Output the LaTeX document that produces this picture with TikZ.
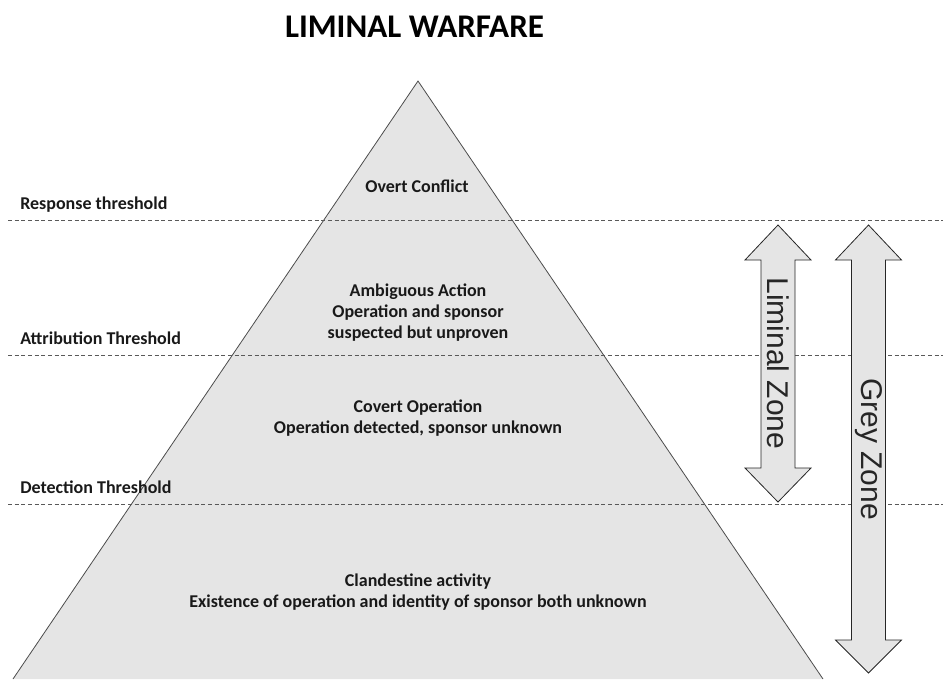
\documentclass[tikz,border=0pt]{standalone}
\usepackage{fontspec}
\setmainfont{Carlito}
\newfontfamily\zonefont{Liberation Sans}
\begin{document}
\begin{tikzpicture}[x=0.75pt, y=-0.75pt,
    level/.style={font=\bfseries\fontsize{13.5}{15.75}\selectfont, text=black!90, align=center},
    threshold/.style={font=\bfseries\fontsize{13.5}{15.75}\selectfont, text=black!90, anchor=base west, inner sep=0pt},
    cut/.style={gray!70!black, dash pattern=on 3pt off 2pt, line width=0.6pt},
    zonearrow/.style={draw=black!85, fill=gray!20, line width=0.6pt},
    zonelabel/.style={font=\zonefont\fontsize{22.5}{24}\selectfont, text=black!85, rotate=-90}]
  \useasboundingbox (0,0) rectangle (943,679);

  % Title
  \node[font=\bfseries\fontsize{24.8}{28}\selectfont] (title) at (414.5,27) {LIMINAL WARFARE};

  % Pyramid
  \coordinate (apex) at (418,81);
  \coordinate (baseL) at (13,679);
  \coordinate (baseR) at (823,679);
  \fill[gray!20] (apex) -- (baseL) -- (baseR) -- cycle;
  \draw[black!70, line width=0.6pt] (baseL) -- (apex) -- (baseR);

  % Threshold lines and their labels
  \foreach \y/\name/\txt in {220/response/Response threshold,
                             355/attribution/Attribution Threshold,
                             504/detection/Detection Threshold} {
    \coordinate (\name W) at (8,\y);
    \coordinate (\name E) at (943,\y);
    \draw[cut] (\name W) -- (\name E);
    \node[threshold] (\name) at (20,\y-11) {\txt};
  }

  % Levels of the pyramid
  \node[level] (overt) at (417,186) {Overt Conflict};
  \node[level] (ambiguous) at (418,313) {Ambiguous Action\\Operation and sponsor\\suspected but unproven};
  \node[level] (covert) at (418,418) {Covert Operation\\Operation detected, sponsor unknown};
  \node[level] (clandestine) at (418,592) {Clandestine activity\\Existence of operation and identity of sponsor both unknown};

  % Zone arrows
  \foreach \cx/\yb/\hb/\name/\txt in {778/502/468/liminal/Liminal Zone,
                                      868.5/673/640/grey/Grey Zone} {
    \draw[zonearrow] (\cx-17,260) -- (\cx-33,260) -- (\cx,225) -- (\cx+33,260)
      -- (\cx+17,260) -- (\cx+17,\hb) -- (\cx+33,\hb) -- (\cx,\yb)
      -- (\cx-33,\hb) -- (\cx-17,\hb) -- cycle;
    \node[zonelabel] (\name) at (\cx,{(225+\yb)/2}) {\txt};
  }
\end{tikzpicture}
\end{document}
